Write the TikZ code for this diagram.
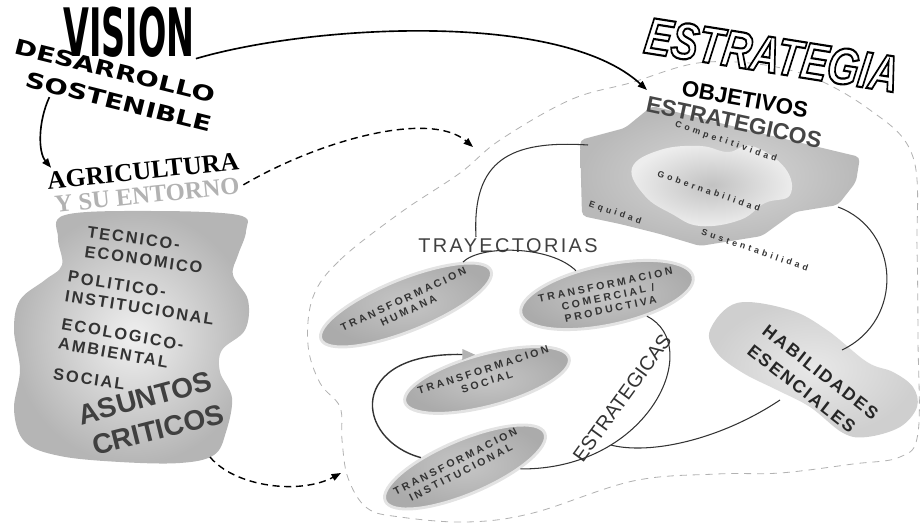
\documentclass[tikz,border=0pt]{standalone}
\usepackage{fontspec}
\setmainfont{Liberation Sans}
\newfontfamily\widefont{DejaVu Sans}
\newfontfamily\romanfont{Liberation Serif}
\newfontfamily\loosefont[LetterSpace=12]{Liberation Sans}
\newfontfamily\spacedfont[LetterSpace=26]{Liberation Sans}
\newfontfamily\airyfont[LetterSpace=38]{Liberation Sans}
\usetikzlibrary{arrows.meta,shapes.geometric}
\newcommand{\hollow}[1]{\special{pdf:literal direct 0 G 1.8 w 2 Tr}#1\special{pdf:literal direct 0 Tr}}

\begin{document}
\begin{tikzpicture}[x=0.3mm, y=0.3mm,
    trans/.style={ellipse, draw=gray!22, line width=2.5pt, inner color=gray!45, outer color=gray!66, inner sep=0pt},
    translbl/.style={font=\spacedfont\bfseries\fontsize{9}{10.5}\selectfont, align=center, text=black!80},
    blobtxt/.style={font=\loosefont\bfseries\fontsize{14}{17}\selectfont, align=left, text=black!80},
    bigtxt/.style={font=\bfseries\fontsize{24}{24}\selectfont, text=black!75},
    objtxt/.style={font=\airyfont\bfseries\fontsize{7.5}{8}\selectfont, text=black!80},
    link/.style={draw=black!80, line width=0.9pt},
    arr/.style={-{Triangle[length=8pt, width=6pt]}, line width=1.4pt},
    darr/.style={arr, dash pattern=on 6pt off 4pt, line width=1.2pt},
    region/.style={draw=gray!60, line width=0.7pt, dash pattern=on 6pt off 5pt},
]
\useasboundingbox (0,0) rectangle (922,-524);

\draw[region] plot[smooth cycle, tension=0.6] coordinates {(313,-297) (340,-260) (400,-213) (460,-173) (500,-140) (570,-100) (630,-83) (707,-62) (797,-72) (870,-110) (913,-157) (917,-250) (918,-340) (918,-433) (900,-457) (853,-464) (780,-473) (717,-474) (633,-481) (533,-513) (467,-522) (400,-517) (367,-508) (348,-478) (342,-440) (340,-407) (320,-383) (308,-345)};

\coordinate (objtip) at (647,-90);
\coordinate (estrin1) at (473,-147);
\coordinate (estrin2) at (341,-473);
\coordinate (blobout) at (210,-457);
\coordinate (objw) at (588,-145);
\coordinate (obje) at (838,-207);
\coordinate (traytop) at (476,-237);
\coordinate (habn) at (842,-350);
\coordinate (habw) at (780,-400);

\node[rotate=6, text=gray!60, font=\romanfont\bfseries\fontsize{21}{21}\selectfont] (entorno) at (147,-195) {Y SU ENTORNO};

\shade[inner color=gray!12, outer color=gray!58] plot[smooth cycle, tension=0.6] coordinates {(65,-215) (150,-211) (238,-215) (246,-231) (238,-255) (233,-275) (248,-300) (245,-330) (222,-350) (220,-372) (232,-398) (226,-432) (214,-455) (180,-463) (120,-462) (60,-456) (25,-442) (14,-410) (20,-370) (14,-330) (20,-300) (45,-280) (62,-265) (58,-238)};

\shade[inner color=gray!30, outer color=gray!55, rounded corners=4pt] (580,-140) -- (625,-128) -- (652,-106) -- (760,-133) -- (860,-157) -- (856,-182) -- (838,-205) -- (795,-212) -- (762,-236) -- (700,-246) -- (660,-234) -- (620,-224) -- (582,-216) -- cycle;
\shade[inner color=gray!48, outer color=gray!14] plot[smooth cycle, tension=0.7] coordinates {(632,-168) (660,-150) (700,-146) (728,-152) (752,-146) (785,-168) (790,-195) (765,-203) (740,-220) (700,-226) (672,-214) (645,-196)};

\shade[inner color=gray!18, outer color=gray!38] plot[smooth cycle, tension=0.6] coordinates {(710,-330) (737,-303) (790,-310) (827,-330) (867,-362) (893,-372) (913,-387) (917,-407) (900,-427) (867,-437) (843,-433) (810,-407) (777,-390) (743,-373) (717,-353)};

\node[trans, rotate=22, minimum width=55mm, minimum height=15.6mm] (humana) at (406,-305) {};
\node[trans, rotate=12, minimum width=52.8mm, minimum height=18mm] (comercial) at (607,-295) {};
\node[trans, rotate=15, minimum width=51mm, minimum height=15.6mm] (social) at (487,-380) {};
\node[trans, rotate=23, minimum width=52mm, minimum height=16.2mm] (institucional) at (465,-467) {};

\node[translbl, rotate=25] at (406,-305) {TRANSFORMACION\\HUMANA};
\node[translbl, rotate=12] at (608,-297) {TRANSFORMACION\\COMERCIAL /\\PRODUCTIVA};
\node[translbl, rotate=18] at (485,-376) {TRANSFORMACION\\SOCIAL};
\node[translbl, rotate=27] at (458,-467) {TRANSFORMACION\\INSTITUCIONAL};

\node[inner sep=1pt, font=\widefont\bfseries\fontsize{57}{57}\selectfont] (vision) at (129,-32) {\scalebox{0.5}[1]{VISION}};
\node[rotate=-14, font=\widefont\bfseries\fontsize{18}{18}\selectfont] (desarrollo) at (115,-71) {\scalebox{1.3}[1]{DESARROLLO}};
\node[rotate=-14, font=\widefont\bfseries\fontsize{18}{18}\selectfont] (sostenible) at (119,-102) {\scalebox{1.3}[1]{SOSTENIBLE}};
\node[rotate=6, font=\romanfont\bfseries\fontsize{22}{22}\selectfont] (agricultura) at (143,-171) {AGRICULTURA};

\node[blobtxt, rotate=-8] (tecnico) at (145,-250) {TECNICO-\\ECONOMICO};
\node[blobtxt, rotate=-9] (politico) at (141,-298) {POLITICO-\\INSTITUCIONAL};
\node[blobtxt, rotate=-10] (ecologico) at (121,-344) {ECOLOGICO-\\AMBIENTAL};
\node[blobtxt, rotate=-8] (socialtxt) at (89,-379) {SOCIAL};
\node[bigtxt, rotate=15] (asuntos) at (145,-398) {ASUNTOS};
\node[bigtxt, rotate=14] (criticos) at (158,-430) {CRITICOS};

\node[rotate=-9, text=white, font=\bfseries\itshape\fontsize{44}{44}\selectfont] (estrategia) at (772,-55) {\scalebox{0.78}[1]{\hollow{ESTRATEGIA}}};
\node[rotate=-10, font=\bfseries\fontsize{19}{19}\selectfont] (objetivos) at (745,-99) {OBJETIVOS};
\node[rotate=-12, text=gray!55!black, font=\bfseries\fontsize{19.5}{20}\selectfont] (estrategicos) at (734,-122) {ESTRATEGICOS};
\node[objtxt, rotate=-19] (competitividad) at (726,-142) {Competitividad};
\node[objtxt, rotate=-19] (gobernabilidad) at (709,-191) {Gobernabilidad};
\node[objtxt, rotate=-19] (equidad) at (615,-213) {Equidad};
\node[objtxt, rotate=-19] (sustentabilidad) at (755,-250) {Sustentabilidad};

\node[rotate=-38, align=left, text=black!85, font=\loosefont\bfseries\fontsize{15}{21}\selectfont] (habilidades) at (813,-382) {HABILIDADES\\ESENCIALES};

\node[font=\loosefont\fontsize{17}{17}\selectfont, text=black!75] (trayectorias) at (508,-246) {TRAYECTORIAS};
\node[rotate=54, font=\fontsize{17}{17}\selectfont, text=black!80] (estrlbl) at (622,-398) {ESTRATEGICAS};

\draw[arr] (vision.south east) .. controls (310,-25) and (560,-10) .. (objtip);
\draw[arr] (sostenible.190) .. controls (38,-122) and (38,-152) .. (agricultura.172);
\draw[darr] (entorno.east) .. controls (320,-140) and (430,-110) .. (estrin1);
\draw[darr] (blobout) .. controls (235,-487) and (300,-495) .. (estrin2);

\draw[link] (objw) .. controls (510,-140) and (472,-160) .. (traytop);
\draw[link] (obje) .. controls (900,-230) and (905,-320) .. (habn);
\draw[link] (humana.15) .. controls (480,-245) and (550,-245) .. (comercial.130);
\draw[link] (comercial.-40) .. controls (705,-345) and (650,-470) .. coordinate[pos=0.72] (estrj) (institucional.-25);
\draw[link] (habw) .. controls (720,-440) and (650,-455) .. (estrj);
\draw[link, line width=1.2pt, -{Triangle[length=11pt, width=9pt, color=gray!60]}] (institucional.145) .. controls (355,-440) and (345,-352) .. (social.100);

\end{tikzpicture}
\end{document}
